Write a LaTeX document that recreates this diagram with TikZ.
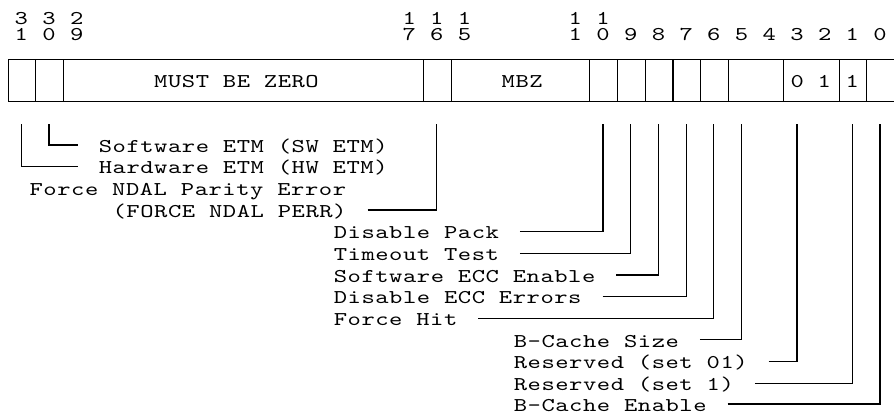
\documentclass[tikz,border=0pt]{standalone}
\usepackage{fontspec}
\newfontfamily\cour{lmmono10-regular.otf}[FakeStretch=1.3,LetterSpace=2.8]
\newfontfamily\courd{lmmono10-regular.otf}[FakeStretch=1.3]
\begin{document}
\begin{tikzpicture}[x=1pt,y=-1pt,
  every node/.style={font=\cour\fontsize{19.5}{19.5}\selectfont, inner sep=0pt},
  field/.style={draw, line width=1.2pt, minimum height=42.4pt, anchor=west},
  intext/.style={anchor=base west},
  digit/.style={anchor=base, text height=11pt, text depth=0pt, font=\courd\fontsize{19.5}{19.5}\selectfont},
  lbl/.style={anchor=base west, text height=14.6pt, text depth=0pt, outer xsep=21pt},
  conn/.style={line width=1.2pt}]
\useasboundingbox (0,0) rectangle (894,414);
% register fields
\node[field, minimum width=27.7pt]  (f31) at (7.5,80.5) {};
\node[field, minimum width=27.7pt]  (f30) at (35.2,80.5) {};
\node[field, minimum width=360.1pt] (f29) at (62.9,80.5) {};
\node[field, minimum width=27.7pt]  (f16) at (423.0,80.5) {};
\node[field, minimum width=138.5pt] (f15) at (450.7,80.5) {};
\node[field, minimum width=27.7pt]  (f10) at (589.2,80.5) {};
\node[field, minimum width=27.7pt]  (f9)  at (616.9,80.5) {};
\node[field, minimum width=27.7pt]  (f8)  at (644.6,80.5) {};
\node[field, minimum width=27.7pt]  (f7)  at (672.3,80.5) {};
\node[field, minimum width=27.7pt]  (f6)  at (700.0,80.5) {};
\node[field, minimum width=55.4pt]  (f5)  at (727.7,80.5) {};
\node[field, minimum width=55.4pt]  (f3)  at (783.1,80.5) {};
\node[field, minimum width=27.7pt]  (f1)  at (838.5,80.5) {};
\node[field, minimum width=27.7pt]  (f0)  at (866.2,80.5) {};
% field contents
\node[intext] (mbz1) at (154,87.5) {MUST BE ZERO};
\node[intext] (mbz2) at (501.5,87.5) {MBZ};
\node[intext] (res01) at (790.3,87.5) {0 1};
\node[digit] (res1) at (852.35,87.5) {1};
% bit numbers, upper row
\node[digit] (u31) at (21.35,24.6) {3};
\node[digit] (u30) at (49.05,24.6) {3};
\node[digit] (u29) at (76.75,24.6) {2};
\node[digit] (u17) at (409.15,24.6) {1};
\node[digit] (u16) at (436.85,24.6) {1};
\node[digit] (u15) at (464.55,24.6) {1};
\node[digit] (u11) at (575.35,24.6) {1};
\node[digit] (u10) at (603.05,24.6) {1};
% bit numbers, lower row
\node[digit] (l31) at (21.35,40.3) {1};
\node[digit] (l30) at (49.05,40.3) {0};
\node[digit] (l29) at (76.75,40.3) {9};
\node[digit] (l17) at (409.15,40.3) {7};
\node[digit] (l16) at (436.85,40.3) {6};
\node[digit] (l15) at (464.55,40.3) {5};
\node[digit] (l11) at (575.35,40.3) {1};
\node[digit] (l10) at (603.05,40.3) {0};
\node[digit] (l9) at (630.75,40.3) {9};
\node[digit] (l8) at (658.45,40.3) {8};
\node[digit] (l7) at (686.15,40.3) {7};
\node[digit] (l6) at (713.85,40.3) {6};
\node[digit] (l5) at (741.55,40.3) {5};
\node[digit] (l4) at (769.25,40.3) {4};
\node[digit] (l3) at (796.95,40.3) {3};
\node[digit] (l2) at (824.65,40.3) {2};
\node[digit] (l1) at (852.35,40.3) {1};
\node[digit] (l0) at (880.05,40.3) {0};
% connector start points below the register
\coordinate (t31) at (21.35,124);
\coordinate (t30) at (49.05,124);
\coordinate (t16) at (436.85,124);
\coordinate (t10) at (603.05,124);
\coordinate (t9) at (630.75,124);
\coordinate (t8) at (658.45,124);
\coordinate (t7) at (686.15,124);
\coordinate (t6) at (713.85,124);
\coordinate (t5) at (741.55,124);
\coordinate (t3) at (796.95,124);
\coordinate (t1) at (852.35,124);
\coordinate (t0) at (880.05,124);
% labels
\node[lbl] (sw)   at (77.8,152.3)   {Software ETM (SW ETM)};
\node[lbl] (hw)   at (77.8,173.95)  {Hardware ETM (HW ETM)};
\node[lbl] (fnpe) at (8.6,195.6)    {Force NDAL Parity Error};
\node[lbl] (fnp)  at (91.65,217.25) {(FORCE NDAL PERR)};
\node[lbl] (dp)   at (312.8,238.9)  {Disable Pack};
\node[lbl] (tt)   at (312.8,260.55) {Timeout Test};
\node[lbl] (se)   at (312.8,282.2)  {Software ECC Enable};
\node[lbl] (de)   at (312.8,303.85) {Disable ECC Errors};
\node[lbl] (fh)   at (312.8,325.5)  {Force Hit};
\node[lbl] (bs)   at (492.8,347.15) {B-Cache Size};
\node[lbl] (r01)  at (492.8,368.8)  {Reserved (set 01)};
\node[lbl] (r1)   at (492.8,390.45) {Reserved (set 1)};
\node[lbl] (be)   at (492.8,411.3)  {B-Cache Enable};
% connectors
\draw[conn] (sw.west) -| (t30);
\draw[conn] (hw.west) -| (t31);
\draw[conn] (fnp.east) -| (t16);
\draw[conn] (dp.east) -| (t10);
\draw[conn] (tt.east) -| (t9);
\draw[conn] (se.east) -| (t8);
\draw[conn] (de.east) -| (t7);
\draw[conn] (fh.east) -| (t6);
\draw[conn] (bs.east) -| (t5);
\draw[conn] (r01.east) -| (t3);
\draw[conn] (r1.east) -| (t1);
\draw[conn] (be.east) -| (t0);
\end{tikzpicture}
\end{document}
